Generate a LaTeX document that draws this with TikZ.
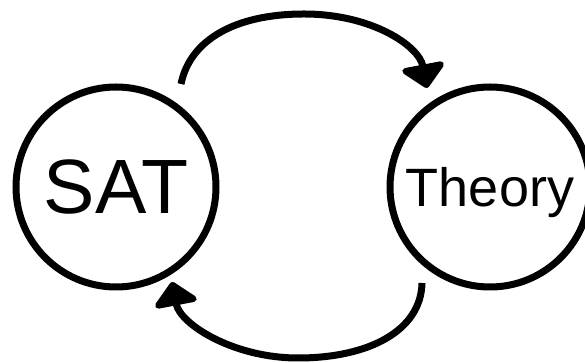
\documentclass[tikz,border=0pt]{standalone}
\usepackage{fontspec}
\setmainfont{Liberation Sans}
\usetikzlibrary{arrows.meta,calc}

\tikzset{
  solver/.style={circle, draw, line width=7pt, minimum size=200pt, inner sep=0pt},
  flow/.style={line width=7pt, -{Triangle[length=25pt, width=50pt, round]}},
}

\begin{document}
\begin{tikzpicture}[x=1pt, y=1pt]
  \useasboundingbox (0,0) rectangle (585,363);

  % the two engines
  \node[solver, font=\fontsize{77}{77}\selectfont] (sat) at (116,176) {SAT};
  \node[solver, font=\fontsize{54}{54}\selectfont, text depth=0pt] (th) at (490,176) {Theory};

  % free ends of the two exchange arrows
  \coordinate (mid) at ($(sat)!0.5!(th)$);
  \coordinate (t0) at ($(sat)+(65,103)$);
  \coordinate (tm) at ($(mid)+(1,173)$);
  \coordinate (t1) at ($(th)+(-63,99)$);
  \coordinate (b0) at ($(th)+(-68,-96)$);
  \coordinate (bm) at ($(mid)+(-5,-171)$);
  \coordinate (b1) at ($(sat)+(56,-95)$);

  % SAT -> Theory over the top
  \draw[flow] (t0) .. controls +(9,44) and +(-69,0) .. (tm)
                   .. controls +(68,0) and +(-8,42) .. (t1);
  % Theory -> SAT underneath
  \draw[flow] (b0) .. controls +(-1,-47) and +(72,0) .. (bm)
                   .. controls +(-65,0) and +(8,-42) .. (b1);
\end{tikzpicture}
\end{document}
